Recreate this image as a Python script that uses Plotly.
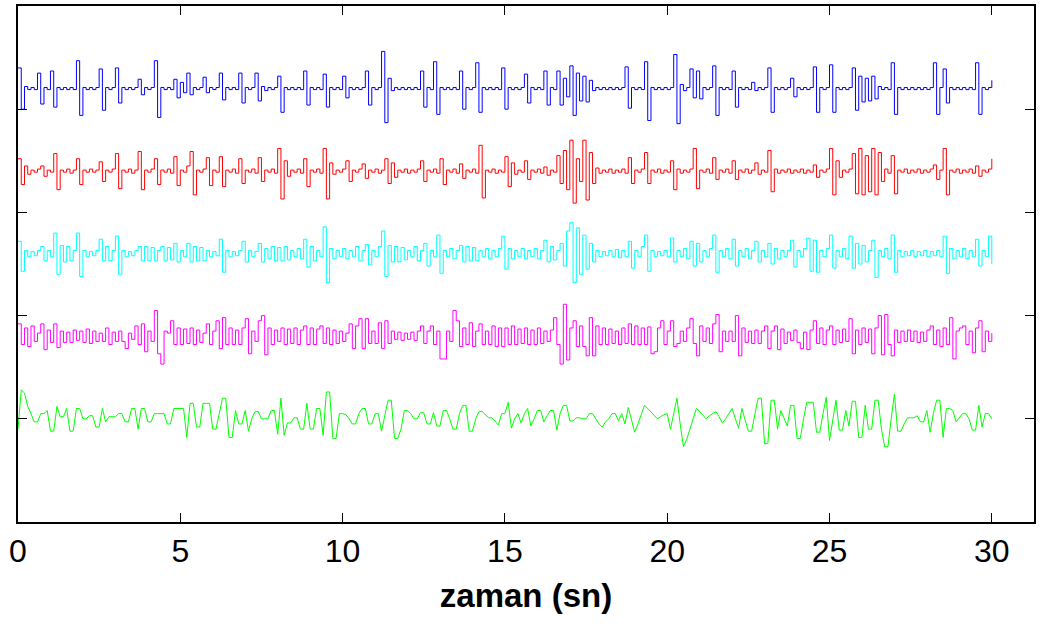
import numpy as np
import plotly.graph_objects as go

# Sampling interval of every component (seconds)
SAMPLE_STEP = 0.1

# Component amplitudes, in hundredths of a y-unit, one row per second
d1_blue = [
    20, -20, 2, -1, 1, -1, 15, -15, 1, -1,
    17, -18, 1, -1, 1, -1, 1, -1, 27, -26,
    1, -1, 1, -1, 1, 19, -21, 1, -1, 1,
    20, -14, 1, -1, 1, -1, 1, 9, -6, 1,
    -1, 1, 27, -28, 1, -1, 1, -1, 9, -9,
    6, -4, 15, -6, 1, -1, 1, 11, -4, 1,
    -1, 1, 15, -11, 1, -1, 1, -1, 15, -14,
    1, -1, 1, 15, -12, 2, -2, 1, -1, 1,
    12, -23, 1, -1, 1, -1, 1, -1, 17, -16,
    1, -1, 1, -1, 14, -18, 1, -1, 1, -1,
    12, -9, 1, -1, 1, -1, 1, 17, -16, 1,
    -1, 1, 36, -33, 10, -2, 1, -1, 1, -1,
    1, -1, 1, -1, 17, -18, 1, -1, 26, -25,
    1, -1, 1, -1, 1, -1, 17, -20, 1, -1,
    1, 25, -23, 1, -1, 1, -1, 1, -1, 20,
    -20, 1, -1, 1, -1, 1, 14, -14, 1, -1,
    1, -1, 17, -16, 1, -1, 17, -16, 10, -8,
    22, -26, 15, -12, 12, -13, 8, -2, 1, -1,
    1, -1, 1, -1, 1, -1, 1, 21, -19, 1,
    -1, 1, -1, 26, -31, 1, -1, 1, -1, 1,
    -1, 1, 33, -34, 4, -2, 1, 19, -9, 17,
    -10, 1, -1, 1, 22, -26, 1, -1, 1, -1,
    17, -18, 1, -1, 1, -1, 6, -2, 1, -1,
    1, 20, -23, 1, -1, 1, -1, 1, 10, -8,
    1, -1, 1, -1, 1, 21, -23, 1, -1, 1,
    23, -23, 1, -1, 1, -1, 1, 20, -21, 12,
    -13, 10, -12, 12, -10, 2, -1, 1, -1, 25,
    -25, 1, -1, 1, -1, 1, -1, 1, -1, 1,
    -1, 1, 25, -25, 1, 19, -14, 1, -1, 1,
    -1, 1, -1, 1, -1, 25, -25, 1, -1, 1,
    8,
]

d2_red = [
    12, -13, 5, -3, 1, -1, 2, 5, -5, 1,
    -1, 17, -18, 1, -1, 2, -2, 1, 12, -13,
    1, -1, 2, -1, 1, 9, -10, 1, -1, 2,
    17, -17, 1, -1, 2, -2, 1, 19, -18, 1,
    -1, 2, 12, -13, 1, -1, 2, -2, 14, -14,
    1, -1, 5, 19, -23, 1, -1, 2, 13, -14,
    1, -1, 14, -15, 1, -1, 2, -2, 12, -12,
    1, -1, 2, -2, 13, -10, 1, -1, 2, -2,
    22, -27, 10, -5, 1, -1, 2, -2, 12, -15,
    1, -1, 2, -2, 22, -27, 8, -3, 1, -1,
    2, 10, -10, 1, -1, 2, 7, -7, 1, -1,
    2, -2, 1, 12, -12, 8, -6, 1, -1, 2,
    -2, 1, -1, 2, 10, -10, 1, -1, 2, -2,
    12, -13, 1, -1, 2, -2, 7, -7, 1, -1,
    2, -2, 25, -26, 1, -1, 2, -2, 1, -1,
    14, -15, 8, -3, 1, -1, 10, -8, 1, -1,
    2, -2, 4, -4, 1, -1, 15, -12, 20, -18,
    30, -31, 12, -10, 30, -28, 18, -12, 3, -2,
    1, -1, 2, -2, 1, -1, 2, -2, 13, -12,
    1, -1, 2, 18, -12, 1, -1, 2, -2, 1,
    -1, 10, -18, 2, -2, 1, -1, 2, 22, -17,
    1, -1, 2, -2, 13, -8, 1, -1, 2, -2,
    10, -8, 1, -1, 2, -2, 1, 8, -3, 1,
    -1, 20, -20, 2, -2, 1, -1, 2, -2, 1,
    -1, 2, -2, 1, -1, 6, -6, 1, -1, 2,
    22, -23, 10, -6, 1, -1, 2, 17, -22, 22,
    -23, 15, -20, 22, -23, 18, -10, 2, -2, 15,
    -22, 1, -1, 2, -2, 1, -1, 2, -2, 1,
    -1, 2, 6, -8, 1, 22, -23, 1, -1, 2,
    -2, 1, -1, 2, -2, 5, -5, 1, -1, 2,
    12,
]

d3_cyan = [
    12, -17, 3, -3, 2, -2, 3, 7, -7, 3,
    -3, 20, -20, 8, -8, 7, -7, 3, 20, -22,
    3, -3, 2, -2, 3, 14, -7, 7, -7, 3,
    17, -20, 3, -3, 2, -2, 3, 7, -7, 7,
    -7, 6, -7, 3, 7, -7, 6, -6, 10, -8,
    3, -3, 10, -8, 7, -7, 6, -7, 3, -3,
    2, -2, 14, -18, 3, -3, 2, -2, 3, 12,
    -8, 3, -3, 2, 10, -8, 5, -5, 7, -7,
    6, -7, 7, -6, 3, -3, 5, -5, 14, -13,
    7, -7, 3, -3, 26, -28, 5, -5, 3, -3,
    5, -5, 3, -3, 7, -7, 3, 9, -11, 3,
    -3, 7, 22, -22, 8, -8, 7, -8, 6, -6,
    3, -3, 7, -7, 3, 10, -12, 3, -3, 18,
    -19, 3, -3, 5, -5, 3, 8, -8, 7, -7,
    6, -7, 3, -3, 5, -5, 3, -3, 5, 17,
    -15, 5, -5, 3, -3, 5, -5, 3, -3, 5,
    -5, 3, 13, -8, 7, -6, 3, 10, -12, 22,
    30, -28, 25, -20, 18, -15, 10, -8, 3, -3,
    2, -2, 3, -3, 4, -4, 3, -3, 12, -14,
    3, -3, 7, 18, -17, 3, -3, 2, -2, 3,
    -3, 15, -8, 3, -3, 5, -5, 12, -12, 10,
    -8, 3, -3, 5, 18, -18, 3, -3, 5, -5,
    14, -12, 3, -3, 5, -5, 3, 12, -8, 3,
    -3, 10, -10, 5, -5, 3, -3, 3, 13, -13,
    3, -3, 5, 15, -17, 13, -18, 3, -3, 5,
    18, -14, 3, -3, 5, -5, 17, -14, 10, -10,
    8, -8, 3, 13, -23, 3, -3, 5, -5, 18,
    -18, 3, -3, 2, -2, 3, -3, 2, -2, 3,
    -3, 2, -2, 3, -3, 17, -19, 5, -5, 3,
    -3, 5, -5, 3, -3, 14, -12, 3, -3, 17,
    -10,
]

d4_magenta = [
    12, -8, 8, -10, 10, -5, 3, 12, -13, 6,
    -6, 12, -11, 5, -6, 4, -6, 6, -4, 5,
    -6, 7, -7, 5, -5, 3, -5, 8, -8, 4,
    -5, 5, -5, -12, 3, -3, 10, -8, 12, -15,
    5, -5, 25, -17, -27, 5, 3, 15, -8, 8,
    -8, 7, -7, 8, -8, 6, -6, 3, 12, -8,
    5, 15, -12, 18, -8, 8, -8, 6, -8, 8,
    17, -17, 5, -5, 15, 20, -18, 8, -8, 6,
    -5, 8, -8, 7, -7, 8, -8, 6, 10, -8,
    8, -8, 7, 10, -7, 8, -8, 6, -7, 5,
    -5, 3, 12, -12, 10, 17, -12, 17, -7, 5,
    -7, 13, -12, 15, -7, 5, -3, 4, -4, 3,
    -3, 4, -4, 5, 10, -7, 5, 10, -8, 5,
    -22, -22, 5, -5, 25, 15, -10, 8, -8, 13,
    -10, 5, 12, -8, 5, -8, 10, -10, 8, -10,
    8, -8, 10, -8, 7, -7, 8, -8, 6, -8,
    8, -7, 5, -5, 6, 18, -8, -27, 31, -23,
    8, 15, -10, 10, -10, -19, 18, -19, 10, -8,
    8, -8, 7, -7, 5, -8, 8, -7, 12, -8,
    10, -8, 8, -8, 9, -17, -15, 8, 15, -8,
    5, 15, -10, -7, 5, -5, 8, 17, -7, -19,
    10, -5, 8, -7, 12, 21, -15, 5, -5, 5,
    -5, 20, -19, 8, -6, 5, -7, 6, -7, 5,
    10, -12, 5, 10, -13, 7, -7, 4, -4, 6,
    -6, -12, 4, -13, 6, 15, -7, 8, -8, 6,
    10, -8, 6, -6, 7, -5, 17, -17, 6, -8,
    8, -6, 7, -17, 8, 20, -18, 21, -8, -19,
    6, -6, 5, -5, 6, -5, 5, -6, 4, -5,
    6, 10, -8, 6, -10, 8, -8, 18, -22, 5,
    8, 10, -8, 5, -16, 8, 15, -15, 5, -5,
    3,
]

a4_green = [
    -10, 28, 25, 12, 5, -3, -3, 5, 5, 8,
    -12, -12, 12, 2, 2, 10, -12, -12, 10, 10,
    0, 0, 3, 3, -8, -8, 10, -3, 2, 2,
    2, 5, 5, -3, -3, 10, 10, -10, 10, 10,
    -3, -3, 5, 5, 5, 5, -5, -5, 10, 10,
    10, 10, -18, 15, 15, -8, -8, 15, 15, 15,
    -10, -10, 5, 20, 20, -18, -18, 8, -5, -5,
    8, -12, 0, 7, 7, 0, 0, 0, 8, 8,
    -15, 20, -16, -4, -4, 1, 1, -10, -10, 15,
    -10, -10, 10, 10, -16, 26, 26, -19, -19, 5,
    5, 4, 0, -5, -5, 5, 10, 10, -5, -5,
    5, 5, -12, 5, 18, 18, -19, -19, -10, 8,
    8, 5, 0, 0, 6, 6, -5, -5, 6, -7,
    -7, 8, 8, 0, -10, -10, 5, 13, 13, -12,
    -12, 0, 7, 7, 4, 1, 1, -3, -6, 5,
    5, 16, -9, 0, 5, -4, 5, 10, -7, 0,
    8, 8, -3, 3, 8, 8, -11, 5, 13, 13,
    -2, -2, 1, 1, 0, 0, 5, 5, 0, -5,
    -8, -3, 0, 5, 5, -2, 5, -5, 11, 0,
    -13, -5, 5, 13, 10, 7, 3, 0, 2, 4,
    5, -10, 5, 20, -5, -27, -20, -10, 0, 10,
    7, 3, 0, 3, 5, 7, 2, -4, 0, 5,
    10, 0, -9, 10, -1, -12, -12, 5, 20, 20,
    -24, -24, 18, 18, -10, 8, 0, -7, 13, 13,
    -19, -19, 0, 16, 16, 16, -13, -13, 5, 21,
    -21, 0, 18, -11, -11, 8, -7, 17, 17, -18,
    -18, 13, -10, -10, 18, 18, -10, -27, -27, 0,
    24, -12, -12, -5, 1, 1, 1, 3, -3, -3,
    8, -13, 5, 18, 18, -18, 10, 10, 8, -3,
    1, 5, 5, 0, -11, -11, 13, -8, 5, 5,
    0,
]

x_ticks = [0, 5, 10, 15, 20, 25, 30]
x_title = "zaman (sn)"

# Stacked display: (values, colour, baseline, line shape)
components = [
    (d1_blue, "#0000FF", 4.2, "hv"),
    (d2_red, "#FF0000", 3.4, "hv"),
    (d3_cyan, "#00FFFF", 2.6, "hv"),
    (d4_magenta, "#FF00FF", 1.8, "hv"),
    (a4_green, "#00FF00", 1.0, "linear"),
]

fig = go.Figure()
for values, colour, base, shape in components:
    v = np.asarray(values, dtype=float)
    t = np.arange(len(v)) * SAMPLE_STEP
    fig.add_trace(go.Scatter(
        x=t, y=base + v / 100.0, mode="lines",
        line=dict(color=colour, width=1, shape=shape),
        showlegend=False, hoverinfo="skip",
    ))

axis_common = dict(
    showline=True, linecolor="black", linewidth=1.5, mirror="ticks",
    ticks="inside", ticklen=9, tickwidth=1, tickcolor="black",
    showgrid=False, zeroline=False,
)

fig.update_layout(
    width=1040, height=624,
    margin=dict(l=18, r=6, t=4, b=102),
    paper_bgcolor="white", plot_bgcolor="white",
    font=dict(family="Liberation Sans, Arial, sans-serif", color="black"),
    xaxis=dict(
        range=[0, 31.3], tickvals=x_ticks,
        ticktext=[str(v) for v in x_ticks],
        tickfont=dict(size=32),
        title=dict(text="<b>" + x_title + "</b>", font=dict(size=33), standoff=16),
        **axis_common,
    ),
    yaxis=dict(
        range=[0, 5], tickvals=[1, 2, 3, 4], showticklabels=False,
        **axis_common,
    ),
)

fig.write_html("out.html")
